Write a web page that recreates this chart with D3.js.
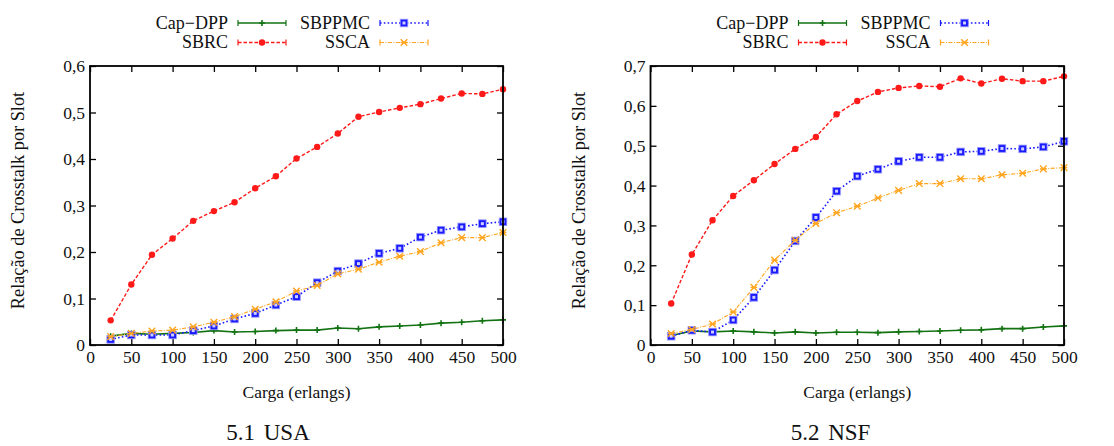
<!DOCTYPE html>
<html>
<head>
<meta charset="utf-8">
<script src="https://cdn.jsdelivr.net/npm/d3@7"></script>
<style>
  html, body { margin: 0; padding: 0; background: #fff; }
  svg { display: block; }
  svg text { font-family: "Liberation Serif", "Times New Roman", "DejaVu Serif", serif !important; }
</style>
</head>
<body>
<svg id="chart" width="1114" height="446"></svg>
<script>
// Load values (erlangs) shared by both panels
const loads = [25, 50, 75, 100, 125, 150, 175, 200, 225, 250, 275, 300, 325, 350, 375, 400, 425, 450, 475, 500];
const xTicks = [0, 50, 100, 150, 200, 250, 300, 350, 400, 450, 500];

// Panel 5.1 USA
const usaCapDPP = [0.019, 0.025, 0.023, 0.025, 0.027, 0.031, 0.028, 0.029, 0.031, 0.032, 0.032, 0.0365, 0.035, 0.039, 0.041, 0.043, 0.047, 0.049, 0.052, 0.054];
const usaSBRC   = [0.053, 0.130, 0.194, 0.229, 0.267, 0.288, 0.307, 0.337, 0.363, 0.401, 0.426, 0.455, 0.491, 0.501, 0.510, 0.518, 0.530, 0.541, 0.540, 0.550];
const usaSBPPMC = [0.012, 0.0215, 0.0215, 0.0215, 0.031, 0.041, 0.056, 0.068, 0.086, 0.104, 0.134, 0.159, 0.175, 0.197, 0.208, 0.232, 0.247, 0.254, 0.261, 0.265];
const usaSSCA   = [0.018, 0.025, 0.030, 0.032, 0.039, 0.049, 0.061, 0.077, 0.093, 0.116, 0.128, 0.153, 0.163, 0.178, 0.191, 0.201, 0.220, 0.231, 0.231, 0.242];
const usaYTicks = [0, 0.1, 0.2, 0.3, 0.4, 0.5, 0.6];

// Panel 5.2 NSF
const nsfCapDPP = [0.024, 0.035, 0.033, 0.035, 0.033, 0.030, 0.033, 0.030, 0.032, 0.032, 0.031, 0.033, 0.034, 0.035, 0.037, 0.038, 0.041, 0.041, 0.045, 0.048];
const nsfSBRC   = [0.104, 0.227, 0.313, 0.374, 0.4135, 0.454, 0.492, 0.522, 0.579, 0.612, 0.635, 0.645, 0.650, 0.648, 0.669, 0.656, 0.668, 0.662, 0.662, 0.674];
const nsfSBPPMC = [0.022, 0.037, 0.0325, 0.0627, 0.1195, 0.188, 0.261, 0.320, 0.386, 0.4236, 0.441, 0.461, 0.471, 0.471, 0.4845, 0.486, 0.493, 0.492, 0.497, 0.511];
const nsfSSCA   = [0.029, 0.039, 0.0526, 0.0827, 0.1446, 0.213, 0.263, 0.305, 0.332, 0.348, 0.369, 0.388, 0.405, 0.405, 0.417, 0.417, 0.427, 0.431, 0.442, 0.445];
const nsfYTicks = [0, 0.1, 0.2, 0.3, 0.4, 0.5, 0.6, 0.7];

const seriesNames = ["Cap\u2212DPP", "SBRC", "SBPPMC", "SSCA"];

// Visual style of each method
const styles = {
  "Cap\u2212DPP": { color: "#137313", dash: null, width: 1.6, marker: "plus" },
  "SBRC":         { color: "#ff1a1a", dash: "3.5,2", width: 1.4, marker: "dot" },
  "SBPPMC":       { color: "#1a1aff", dash: "1.6,2.2", width: 1.6, marker: "square" },
  "SSCA":         { color: "#ffa51f", dash: "4,1.5,1,1.5", width: 1.1, marker: "cross" }
};

const SERIF = "'Liberation Serif', 'Times New Roman', 'DejaVu Serif', serif";
const fmt = v => v === 0 ? "0" : d3.format(".1f")(v).replace(".", ",");
const svg = d3.select("#chart");

function drawMarker(g, kind, x, y, color) {
  if (kind === "plus") {
    g.append("path").attr("d", `M${x - 3},${y}H${x + 3}M${x},${y - 3}V${y + 3}`)
      .attr("stroke", color).attr("stroke-width", 1.6).attr("fill", "none");
  } else if (kind === "dot") {
    g.append("circle").attr("cx", x).attr("cy", y).attr("r", 3.2).attr("fill", color);
  } else if (kind === "square") {
    g.append("rect").attr("x", x - 3.8).attr("y", y - 3.8).attr("width", 7.6).attr("height", 7.6)
      .attr("fill", color).attr("stroke", "#9a9aff").attr("stroke-width", 0.8);
    g.append("rect").attr("x", x - 1.5).attr("y", y - 1.5).attr("width", 3).attr("height", 3)
      .attr("fill", "#d0d0ff");
  } else if (kind === "cross") {
    g.append("path").attr("d", `M${x - 3.3},${y - 3.3}L${x + 3.3},${y + 3.3}M${x - 3.3},${y + 3.3}L${x + 3.3},${y - 3.3}M${x - 3.3},${y}H${x + 3.3}`)
      .attr("stroke", color).attr("stroke-width", 1.4).attr("fill", "none");
  }
}

function drawPanel(cfg) {
  const g = svg.append("g").attr("font-family", SERIF);
  const x = d3.scaleLinear().domain([0, 500]).range([cfg.left, cfg.right]);
  const y = d3.scaleLinear().domain([0, cfg.yMax]).range([cfg.bottom, cfg.top]);

  // Ticks pointing inward on all four sides
  const tickLen = 6;
  const axB = g.append("g").attr("transform", `translate(0,${cfg.bottom})`)
    .call(d3.axisBottom(x).tickValues(xTicks).tickSizeInner(-tickLen).tickSizeOuter(0).tickPadding(14).tickFormat(d3.format("d")));
  const axT = g.append("g").attr("transform", `translate(0,${cfg.top})`)
    .call(d3.axisTop(x).tickValues(xTicks).tickSizeInner(-tickLen).tickSizeOuter(0).tickFormat(""));
  const axL = g.append("g").attr("transform", `translate(${cfg.left},0)`)
    .call(d3.axisLeft(y).tickValues(cfg.yTicks).tickSizeInner(-tickLen).tickSizeOuter(0).tickPadding(5).tickFormat(fmt));
  const axR = g.append("g").attr("transform", `translate(${cfg.right},0)`)
    .call(d3.axisRight(y).tickValues(cfg.yTicks).tickSizeInner(-tickLen).tickSizeOuter(0).tickFormat(""));
  [axB, axT, axL, axR].forEach(a => {
    a.attr("font-family", SERIF).attr("font-size", 17.5);
    a.select(".domain").remove();
    a.selectAll(".tick line").attr("stroke", "#000").attr("stroke-width", 1.3);
    a.selectAll("text").style("font-family", SERIF).attr("font-size", 17.5).attr("fill", "#111");
  });
  axL.selectAll("text").attr("dy", "0.33em");
  axB.selectAll("text").attr("dy", "0.25em");

  // Series lines and markers
  const line = d3.line().x(d => x(d[0])).y(d => y(d[1]));
  seriesNames.forEach((name, i) => {
    const st = styles[name];
    const pts = loads.map((l, j) => [l, cfg.values[i][j]]);
    g.append("path").datum(pts).attr("d", line)
      .attr("fill", "none").attr("stroke", st.color).attr("stroke-width", st.width)
      .attr("stroke-dasharray", st.dash);
    const mg = g.append("g");
    pts.forEach(p => drawMarker(mg, st.marker, x(p[0]), y(p[1]), st.color));
  });

  // Frame
  g.append("rect").attr("x", cfg.left).attr("y", cfg.top)
    .attr("width", cfg.right - cfg.left).attr("height", cfg.bottom - cfg.top)
    .attr("fill", "none").attr("stroke", "#000").attr("stroke-width", 1.8);

  // Axis titles
  g.append("text").attr("x", (cfg.left + cfg.right) / 2).attr("y", 398)
    .attr("text-anchor", "middle").attr("font-size", 17.5).attr("fill", "#111")
    .style("font-family", SERIF)
    .text("Carga (erlangs)");
  g.append("text")
    .attr("transform", `translate(${cfg.left - 66},${(cfg.top + cfg.bottom) / 2 - 5}) rotate(-90)`)
    .attr("text-anchor", "middle").attr("font-size", 18.3).attr("fill", "#111")
    .style("font-family", SERIF)
    .text("Relação de Crosstalk por Slot");

  // Legend: two columns (Cap−DPP/SBRC left, SBPPMC/SSCA right)
  const legend = g.append("g");
  seriesNames.forEach((name, i) => {
    const col = Math.floor(i / 2), row = i % 2;
    const st = styles[name];
    const textEnd = cfg.left + (col === 0 ? 138 : 280);
    const x1 = textEnd + 10, x2 = textEnd + 58;
    const ly = 23 + row * 19.5;
    legend.append("text").attr("x", textEnd).attr("y", ly + 5.5)
      .attr("text-anchor", "end").attr("font-size", 18).attr("fill", "#111")
      .style("font-family", SERIF).text(name);
    legend.append("path").attr("d", `M${x1},${ly}H${x2}`)
      .attr("stroke", st.color).attr("stroke-width", st.width).attr("stroke-dasharray", st.dash);
    legend.append("path").attr("d", `M${x1},${ly - 3}V${ly + 3}M${x2},${ly - 3}V${ly + 3}`)
      .attr("stroke", st.color).attr("stroke-width", 1.2);
    drawMarker(legend, st.marker, (x1 + x2) / 2, ly, st.color);
  });

  // Panel caption
  g.append("text").attr("x", cfg.left + cfg.captionOffset).attr("y", 440)
    .attr("text-anchor", "middle").attr("font-size", 23).attr("fill", "#111")
    .style("font-family", SERIF)
    .attr("word-spacing", "3px")
    .text(cfg.caption);
}

drawPanel({
  left: 90, right: 503, top: 66, bottom: 345,
  yMax: 0.6, yTicks: usaYTicks,
  values: [usaCapDPP, usaSBRC, usaSBPPMC, usaSSCA],
  caption: "5.1 USA", captionOffset: 178
});
drawPanel({
  left: 650.5, right: 1064, top: 66, bottom: 345,
  yMax: 0.7, yTicks: nsfYTicks,
  values: [nsfCapDPP, nsfSBRC, nsfSBPPMC, nsfSSCA],
  caption: "5.2 NSF", captionOffset: 180
});
</script>
</body>
</html>
